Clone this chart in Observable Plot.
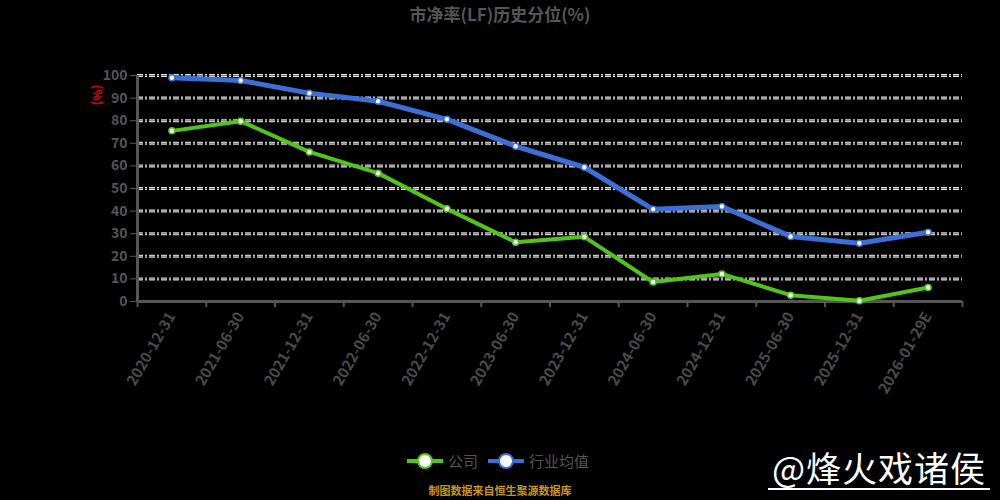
<!DOCTYPE html>
<html>
<head>
<meta charset="utf-8">
<script src="https://cdn.jsdelivr.net/npm/d3@7"></script>
<script src="https://cdn.jsdelivr.net/npm/@observablehq/plot@0.6"></script>
<style>
  html, body { margin: 0; padding: 0; background: #000; }
  body { width: 1000px; height: 500px; position: relative; overflow: hidden; font-family: "Noto Sans CJK SC", "Noto Sans", sans-serif; }
  #title { position: absolute; left: 0; top: 2px; width: 1000px; text-align: center; font-size: 17px; font-weight: bold; color: #555; line-height: 24px; }
  #chart { position: absolute; left: 0; top: 28px; }
  #unit { position: absolute; left: 88px; top: 88px; color: #e00000; font-size: 12px; font-weight: bold; transform: rotate(90deg); transform-origin: center; line-height: 14px; }
  #legend { position: absolute; left: 0; top: 450px; width: 1000px; display: flex; justify-content: center; align-items: center; font-size: 15px; color: #555; }
  .item { display: flex; align-items: center; margin: 0 4px 0 0; }
  .sym { position: relative; width: 36px; height: 20px; margin-right: 5px; }
  .sym .ln { position: absolute; left: 0; top: 8px; width: 36px; height: 4px; }
  .sym .c { position: absolute; left: 10px; top: 2px; width: 12px; height: 12px; border-radius: 50%; background: #fff; border: 2px solid; }
  #source { position: absolute; left: 0; top: 482px; width: 1000px; text-align: center; font-size: 11px; font-weight: bold; color: #c8961e; line-height: 16px; }
  #wm { position: absolute; left: 768px; top: 446px; width: 222px; color: #fff; font-size: 35px; line-height: 42px; border-bottom: 2px solid #fff; text-align: center; letter-spacing: 1px; }
</style>
</head>
<body>
<div id="title">市净率(LF)历史分位(%)</div>
<div id="unit">(%)</div>
<div id="chart"></div>
<div id="legend">
  <div class="item"><div class="sym"><div class="ln" style="background:#52c41a"></div><div class="c" style="border-color:#52c41a"></div></div><span>公司</span></div>
  <div class="item" style="margin-left:6px"><div class="sym"><div class="ln" style="background:#3b6fd6"></div><div class="c" style="border-color:#3b6fd6"></div></div><span>行业均值</span></div>
</div>
<div id="source">制图数据来自恒生聚源数据库</div>
<div id="wm">@烽火戏诸侯</div>
<script>
const dates = ["2020-12-31","2021-06-30","2021-12-31","2022-06-30","2022-12-31","2023-06-30","2023-12-31","2024-06-30","2024-12-31","2025-06-30","2025-12-31","2026-01-29E"];
const company = [75.5, 79.8, 66.2, 56.8, 41.0, 26.2, 28.6, 8.6, 12.2, 2.8, 0.3, 6.2];
const industry = [99.0, 97.8, 92.2, 88.6, 80.6, 68.7, 59.4, 40.8, 42.0, 28.8, 25.8, 30.6];
const yTicks = [0, 10, 20, 30, 40, 50, 60, 70, 80, 90, 100];

const idx = dates.map((d, i) => i);
const bounds = dates.map((d, i) => i - 0.5).concat([dates.length - 0.5]);
const greenC = "#52c41a";
const blueC = "#3b6fd6";

const chart = Plot.plot({
  width: 1000,
  height: 420,
  marginLeft: 137,
  marginRight: 38,
  marginTop: 47,
  marginBottom: 147,
  x: { domain: [-0.5, dates.length - 0.5], axis: null },
  y: { domain: [0, 100], axis: null },
  style: { background: "transparent", color: "#555", fontFamily: "'Noto Sans CJK SC', 'Noto Sans', sans-serif", fontSize: "14px" },
  marks: [
    Plot.ruleY(yTicks.filter(v => v > 0), { y: d => d, stroke: "#d8d8d8", strokeWidth: 3, strokeDasharray: "6,2,2,2" }),
    Plot.ruleY(yTicks.filter(v => v > 0), { y: d => d, stroke: "#7a7a7a", strokeWidth: 1, strokeDasharray: "6,2,2,2" }),
    Plot.axisY(yTicks, { tickSize: 7, tickPadding: 3, stroke: "#555", fill: "#555", fontSize: 14, fontWeight: "bold" }),
    Plot.ruleX([-0.5], { x: d => d, y1: 0, y2: 100, stroke: "#555", strokeWidth: 3 }),
    Plot.ruleY([0], { y: d => d, stroke: "#555", strokeWidth: 3 }),
    Plot.axisX(bounds, { tickSize: 6, tickFormat: () => "", stroke: "#555", strokeWidth: 2 }),
    Plot.axisX(idx, { tickSize: 0, tickPadding: 12, tickRotate: -60, tickFormat: i => dates[i], fill: "#4a4a4a", fontSize: 15, fontWeight: "bold" }),
    Plot.line(company, { x: (d, i) => i, y: d => d, stroke: greenC, strokeWidth: 4 }),
    Plot.line(industry, { x: (d, i) => i, y: d => d, stroke: blueC, strokeWidth: 5 }),
    Plot.dot(company, { x: (d, i) => i, y: d => d, r: 3, fill: "#fff", stroke: greenC, strokeWidth: 1.5 }),
    Plot.dot(industry, { x: (d, i) => i, y: d => d, r: 3, fill: "#fff", stroke: blueC, strokeWidth: 1.5 })
  ]
});
document.getElementById("chart").appendChild(chart);
</script>
</body>
</html>
